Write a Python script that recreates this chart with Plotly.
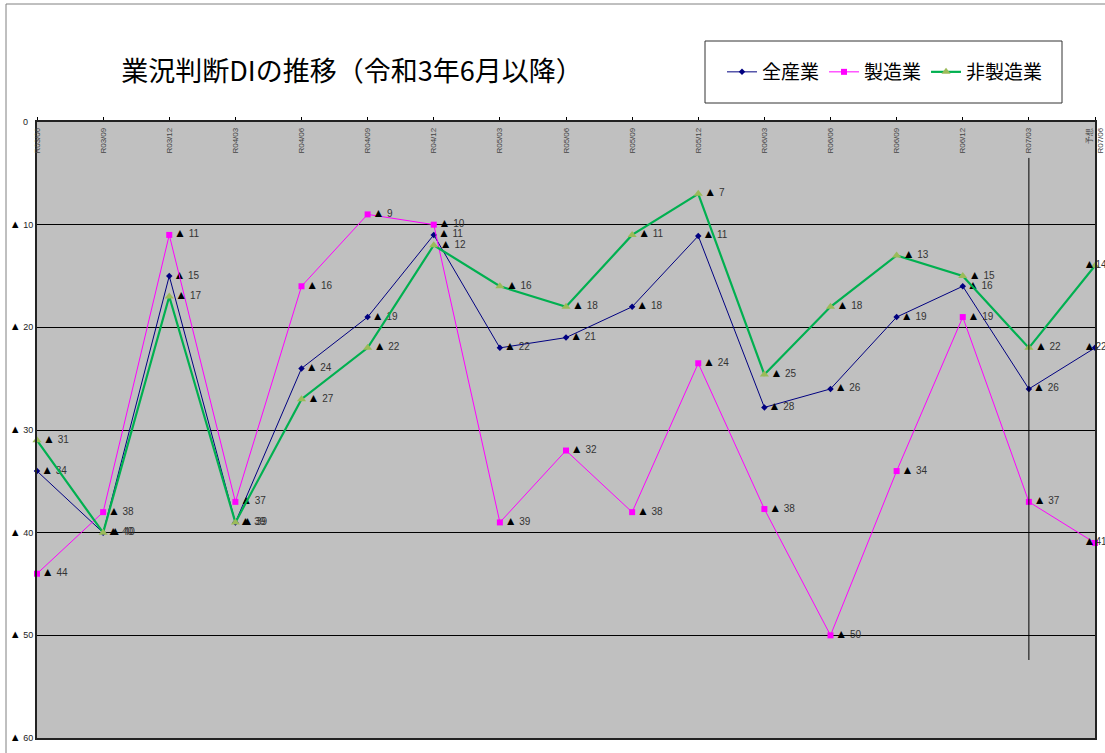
import math
import plotly.graph_objects as go

periods = ["R03/06", "R03/09", "R03/12", "R04/03", "R04/06", "R04/09", "R04/12",
           "R05/03", "R05/06", "R05/09", "R05/12", "R06/03", "R06/06", "R06/09",
           "R06/12", "R07/03", "予想<br>R07/06"]

all_industries = [-34, -40, -15, -39, -24, -19, -11, -22, -21, -18, -11.1, -27.8, -26, -19, -16, -26, -22]
manufacturing = [-44, -38, -11, -37, -16, -9, -10, -39, -32, -38, -23.5, -37.7, -50, -34, -19, -37, -41]
non_manufacturing = [-31, -40, -17, -39, -27, -22, -12, -16, -18, -11, -7, -24.6, -18, -13, -15, -22, -14]

series_names = ["全産業", "製造業", "非製造業"]

y_tickvals = [0, 10, 20, 30, 40, 50, 60]
y_ticktext = ["0", "▲ 10", "▲ 20", "▲ 30", "▲ 40", "▲ 50", "▲ 60"]

title_text = "業況判断DIの推移（令和3年6月以降）"

JP = "Noto Sans CJK JP"
LAT = "Liberation Sans, Arial, sans-serif"

TRI_L = "<span style='font-size:12px;fill:#000000'>▲</span>"
TRI_T = "<span style='font-size:11px;fill:#000000'>▲</span>"

x = list(range(len(periods)))


def labels(vals):
    out = []
    n = len(vals)
    for i, v in enumerate(vals):
        r = int(math.floor(abs(v) + 0.5))
        out.append((TRI_L + "%d" % r) if i == n - 1 else (TRI_L + " %d" % r))
    return out


def positions(vals):
    n = len(vals)
    return ["middle right" if i < n - 1 else "middle center" for i in range(n)]


def tick_html(t):
    return t.replace("▲", TRI_T)


fig = go.Figure()

styles = [
    dict(line=dict(color="#000080", width=1),
         marker=dict(symbol="diamond", size=5, color="#000080")),
    dict(line=dict(color="#FF00FF", width=1),
         marker=dict(symbol="square", size=6, color="#FF00FF")),
    dict(line=dict(color="#00B050", width=2.2),
         marker=dict(symbol="triangle-up", size=8, color="#9BBB59")),
]

for name, vals, st in zip(series_names, [all_industries, manufacturing, non_manufacturing], styles):
    fig.add_trace(go.Scatter(
        x=x, y=[-v for v in vals], name=name,
        mode="lines+markers+text",
        text=labels(vals), textposition=positions(vals),
        textfont=dict(family=LAT, size=10, color="#333333"),
        line=st["line"], marker=st["marker"],
        cliponaxis=False,
    ))

# Plot geometry in pixels
W, H = 1105, 753
L, R, T, B = 37, 10, 122, 15
pw, ph = W - L - R, H - T - B


def px2paper_x(px):
    return (px - L) / pw


def px2paper_y(py):
    return 1 - (py - T) / ph


shapes = [
    dict(type="rect", xref="paper", yref="paper",
         x0=px2paper_x(6), x1=px2paper_x(1120), y0=px2paper_y(770), y1=px2paper_y(4),
         line=dict(color="#808080", width=1), fillcolor="rgba(0,0,0,0)", layer="below"),
    dict(type="rect", xref="paper", yref="paper",
         x0=px2paper_x(705), x1=px2paper_x(1062), y0=px2paper_y(103), y1=px2paper_y(41),
         line=dict(color="#333333", width=1), fillcolor="white"),
    dict(type="line", xref="x", yref="y", x0=15, x1=15, y0=3.5, y1=52.4,
         line=dict(color="#000000", width=1)),
]

annotations = [
    dict(xref="paper", yref="y", x=px2paper_x(30), y=y_tickvals[0],
         text=y_ticktext[0], showarrow=False, xanchor="right", yanchor="middle",
         font=dict(family=LAT, size=9, color="#222222")),
]

fig.update_layout(
    width=W, height=H,
    margin=dict(l=L, r=R, t=T, b=B),
    paper_bgcolor="white",
    plot_bgcolor="#C0C0C0",
    title=dict(text=title_text, x=352 / W, xanchor="center",
               y=1 - 72 / H, yanchor="middle",
               font=dict(family=JP, size=27, color="#000000")),
    showlegend=True,
    legend=dict(orientation="h", x=px2paper_x(722), y=px2paper_y(72),
                xanchor="left", yanchor="middle",
                bgcolor="rgba(0,0,0,0)", borderwidth=0,
                font=dict(family=JP, size=19, color="#000000"),
                itemwidth=30),
    shapes=shapes,
    annotations=annotations,
    xaxis=dict(
        range=[0, len(periods) - 1], side="top",
        tickmode="array", tickvals=x, ticktext=periods,
        tickangle=-90, ticklabelposition="inside", ticklabeloverflow="allow",
        tickfont=dict(family=LAT, size=8, color="#444444"),
        ticks="outside", ticklen=3, tickcolor="#000000",
        showgrid=False, zeroline=False,
        showline=True, mirror=True, linecolor="#222222", linewidth=2,
        automargin=False,
    ),
    yaxis=dict(
        range=[60, 0], tickmode="array", tickvals=y_tickvals[1:],
        ticktext=[tick_html(t) for t in y_ticktext[1:]],
        tickfont=dict(family=LAT, size=9, color="#222222"),
        ticks="", showgrid=True, gridcolor="#000000", gridwidth=1,
        zeroline=False,
        showline=True, mirror=True, linecolor="#222222", linewidth=2,
        automargin=False,
    ),
)

fig.write_html("out.html")
